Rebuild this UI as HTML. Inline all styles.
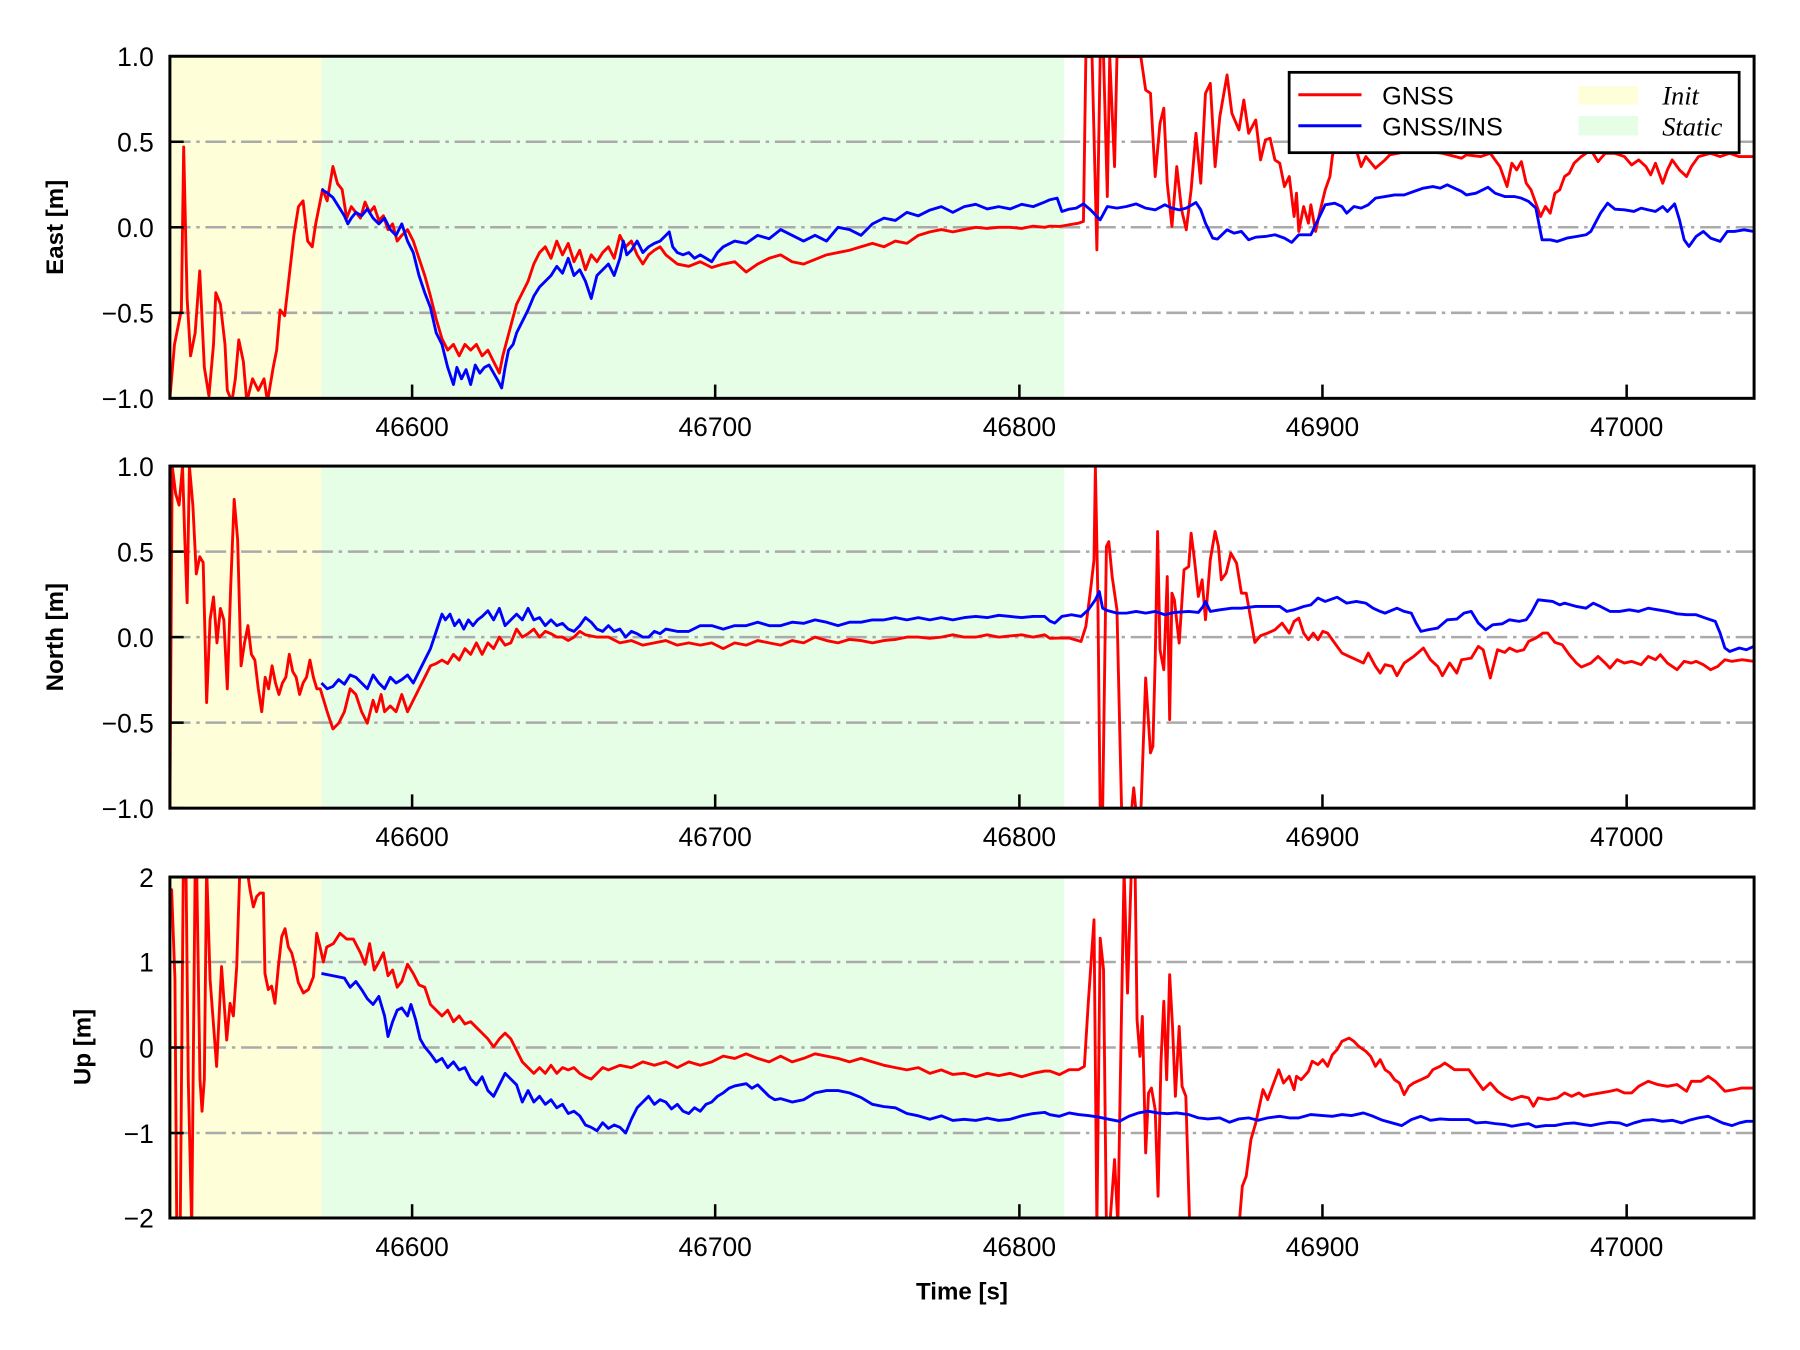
<!DOCTYPE html>
<html><head><meta charset="utf-8"><style>
html,body{margin:0;padding:0;background:#fff;}
svg{display:block;}
text{font-family:"Liberation Sans",Arial,sans-serif;fill:#000;}
</style></head><body>
<svg id="s" width="1800" height="1350" viewBox="0 0 1568 1176" xmlns="http://www.w3.org/2000/svg">
<defs>
<clipPath id="c1"><rect x="148" y="49" width="1380" height="298"/></clipPath>
<clipPath id="c2"><rect x="148" y="406" width="1380" height="298"/></clipPath>
<clipPath id="c3"><rect x="148" y="764" width="1380" height="297"/></clipPath>
</defs>
<g id="bg"></g>
<g id="grid" stroke="#aaaaaa" stroke-width="2.2" stroke-dasharray="18 5 3 5" fill="none"></g>
<g id="series" fill="none" stroke-width="2.5" stroke-linejoin="round"></g>
<g id="axes"></g>
<g id="legend">
<rect x="1123" y="63" width="392" height="70" fill="#fff" stroke="#000" stroke-width="2.4"/>
<line x1="1131" y1="82.5" x2="1186" y2="82.5" stroke="#ff0000" stroke-width="2.6"/>
<line x1="1131" y1="109.5" x2="1186" y2="109.5" stroke="#0000ff" stroke-width="2.6"/>
<text x="1204" y="91" font-size="22">GNSS</text>
<text x="1204" y="118" font-size="22">GNSS/INS</text>
<rect x="1375" y="75" width="52" height="16" fill="#fefed8"/>
<rect x="1375" y="101" width="52" height="17" fill="#e6fde6"/>
<text x="1448" y="91" font-size="23" font-style="italic" style="font-family:'Liberation Serif',serif">Init</text>
<text x="1448" y="118" font-size="23" font-style="italic" style="font-family:'Liberation Serif',serif">Static</text>
</g>
<text x="838" y="1132" font-size="21" font-weight="bold" text-anchor="middle">Time [s]</text>
<text transform="translate(55,198) rotate(-90)" font-size="21" font-weight="bold" text-anchor="middle">East [m]</text>
<text transform="translate(55,555) rotate(-90)" font-size="21" font-weight="bold" text-anchor="middle">North [m]</text>
<text transform="translate(79,912) rotate(-90)" font-size="21" font-weight="bold" text-anchor="middle">Up [m]</text>
</svg>
<script>
(function(){
var NS="http://www.w3.org/2000/svg";
function el(p,t,a,txt){var e=document.createElementNS(NS,t);for(var k in a)e.setAttribute(k,a[k]);if(txt!=null)e.textContent=txt;document.getElementById(p).appendChild(e);return e;}
var L=148,R=1528;
var panels=[
 {t:49,b:347,clip:"c1",ticks:[[49,"1.0"],[123.5,"0.5"],[198,"0.0"],[272.5,"\u22120.5"],[347,"\u22121.0"]],grid:[123.5,198,272.5]},
 {t:406,b:704,clip:"c2",ticks:[[406,"1.0"],[480.5,"0.5"],[555,"0.0"],[629.5,"\u22120.5"],[704,"\u22121.0"]],grid:[480.5,555,629.5]},
 {t:764,b:1061,clip:"c3",ticks:[[764,"2"],[838,"1"],[912.5,"0"],[987,"\u22121"],[1061,"\u22122"]],grid:[838,912.5,987]}
];
var xt=[[359,"46600"],[623,"46700"],[888,"46800"],[1152,"46900"],[1417,"47000"]];
panels.forEach(function(p){
 el("bg","rect",{x:L,y:p.t,width:280-L,height:p.b-p.t,fill:"#fefed8"});
 el("bg","rect",{x:280,y:p.t,width:927-280,height:p.b-p.t,fill:"#e6fde6"});
 p.grid.forEach(function(y){el("grid","line",{x1:L,y1:y,x2:R,y2:y});});
 el("axes","rect",{x:L,y:p.t,width:R-L,height:p.b-p.t,fill:"none",stroke:"#000","stroke-width":2.6});
 p.ticks.forEach(function(t){
  el("axes","line",{x1:L,y1:t[0],x2:L+12,y2:t[0],stroke:"#000","stroke-width":2.2});
  el("axes","text",{x:134,y:t[0]+8.5,"font-size":23,"text-anchor":"end"},t[1]);
 });
 xt.forEach(function(t){
  el("axes","line",{x1:t[0],y1:p.b,x2:t[0],y2:p.b-12,stroke:"#000","stroke-width":2.2});
  el("axes","text",{x:t[0],y:p.b+33,"font-size":23,"text-anchor":"middle"},t[1]);
 });
});
function tz(arr,y0){var o=[];for(var i=0;i<arr.length;i+=2)o.push(914.6+0.417*arr[i],y0+0.29*arr[i+1]);return o;}
function path(arr,col,clip){var d="M";for(var i=0;i<arr.length;i+=2)d+=(i?" L":"")+arr[i].toFixed(1)+" "+arr[i+1].toFixed(1);el("series","path",{d:d,stroke:col,"clip-path":"url(#"+clip+")"});}

// Panel 1
var r1=[148,347,152,300,156,280,158,270,160,128,163,260,166,310,170,290,174,236,178,320,182,345,186,300,188,255,192,265,196,300,198,340,202,350,205,330,208,296,212,315,215,350,220,330,225,340,230,330,233,350,238,320,241,305,244,270,248,275,252,240,256,205,260,180,264,175,268,210,272,215,275,195,278,180,281,165,285,175,290,145,294,160,298,165,302,190,306,180,310,185,314,190,318,176,322,185,326,180,330,192,334,188,338,200,342,195,346,210,350,205,355,200,360,210,365,225,370,240,375,258,380,278,385,295,390,305,395,300,400,310,405,300,410,305,415,300,420,310,425,305,430,315,435,325,438,310,442,295,446,280,450,265,455,255,460,245,465,230,470,220,475,215,480,225,485,210,490,222,495,212,500,228,505,218,510,235,515,222,520,228,525,220,530,215,535,225,540,205,545,215,550,210,555,222,560,230,565,222,570,218,575,215,580,222,590,230,600,232,610,228,620,233,630,230,640,228,650,237,660,230,670,225,680,222,690,228,700,230,710,226,720,222,730,220,740,218,750,215,760,212,770,215,780,210,790,212,800,205,810,202,820,200,830,202,840,200,850,198,860,199,870,198,880,198,890,199,900,197,910,198,914.6,197];
r1=r1.concat(tz([20,530,40,525,60,520,70,515,75,20,88,20,98,600,105,20,112,20,120,440,125,20,135,350,140,20,190,20,200,120,210,130,220,380,230,220,238,175,245,400,255,530,265,350,275,480,285,540,295,420,305,250,315,400,325,130,335,100,345,350,355,200,370,75,380,190,395,240,405,150,415,250,430,210,440,330,450,270,460,265,470,330,480,340,490,410,500,380,510,500,515,430,520,545,530,470,540,520,545,465,555,545,565,480,575,420,585,380,590,320,600,250,620,220,640,300,650,350,660,320,680,355,700,330,710,315,760,300,820,310,860,325,870,315,900,320,920,310,940,350,955,410,965,340,975,360,985,335,995,400,1005,420,1015,460,1025,500,1035,470,1045,490,1055,430,1065,420,1075,380,1085,370,1095,340,1110,320,1130,300,1145,335,1160,310,1180,310,1200,320,1215,345,1230,330,1245,350,1255,375,1265,340,1280,400,1290,360,1300,330,1315,360,1330,380,1340,350,1355,320,1380,310,1400,320,1420,310,1440,320,1470,320],43.6));
var b1=[280,165,285,168,290,172,295,180,300,188,303,195,306,190,310,185,315,188,320,182,325,190,330,195,335,190,340,200,345,205,350,195,355,210,360,220,365,240,370,255,375,268,380,290,385,300,390,320,395,335,398,320,402,330,406,322,410,335,414,318,418,325,422,320,426,318,430,325,434,332,437,338,440,320,443,305,447,300,450,290,455,280,460,270,465,258,470,250,475,245,480,240,485,232,490,238,495,225,500,240,505,235,510,245,515,260,520,240,525,235,530,230,535,240,540,225,543,210,546,222,550,218,555,210,560,220,565,215,570,212,575,210,580,205,583,202,586,215,590,220,595,222,600,220,605,225,610,222,615,225,620,228,625,220,630,215,640,210,650,212,660,205,670,208,680,200,690,205,700,210,710,205,720,210,730,198,740,200,750,205,760,195,770,190,780,192,790,185,800,188,810,183,820,180,830,185,840,180,850,178,860,182,870,180,880,182,890,178,900,180,910,176,914.6,174];
b1=b1.concat(tz([15,445,25,485,40,478,55,475,70,462,85,480,105,510,120,470,140,475,160,470,180,462,200,475,220,480,240,465,255,475,270,480,285,475,305,458,315,480,325,520,340,565,350,568,370,540,385,550,400,545,415,570,430,562,450,560,470,555,490,565,505,578,520,555,545,555,560,510,575,465,595,460,610,470,620,490,635,470,650,475,665,465,680,445,700,440,720,435,740,435,760,425,780,415,800,410,815,415,830,405,845,415,860,425,870,435,890,430,915,412,930,430,950,440,970,440,985,445,1000,455,1015,475,1028,570,1045,570,1060,575,1080,565,1100,560,1120,555,1130,545,1150,490,1165,460,1180,478,1200,480,1220,485,1235,475,1250,480,1265,485,1280,470,1290,485,1305,462,1315,510,1325,570,1335,590,1350,560,1365,545,1380,565,1400,575,1415,545,1430,545,1450,540,1470,545],43.6));
path(r1,"#ff0000","c1");path(b1,"#0000ff","c1");

// Panel 2
var r2=[148,704,150,406,153,430,156,440,159,406,161,470,163,525,165,406,168,440,171,500,174,485,177,490,180,612,183,540,186,520,189,560,192,530,195,540,198,600,201,510,204,435,207,470,210,580,213,560,216,545,219,570,222,575,225,600,228,620,231,590,234,600,237,580,240,595,243,605,246,595,249,590,252,570,255,585,258,590,261,605,264,595,267,590,270,575,273,590,276,600,279,600,282,610,285,620,290,635,295,630,300,620,305,600,310,605,315,620,320,630,325,610,328,620,332,605,335,620,340,615,345,620,350,605,355,620,360,610,365,600,370,590,375,580,380,578,385,575,390,578,395,570,400,575,405,565,410,570,415,560,420,570,425,560,430,565,435,555,440,562,445,560,450,548,455,555,460,552,465,548,470,555,475,550,480,552,485,555,490,555,495,558,500,555,505,550,510,553,520,555,530,555,540,560,550,558,560,562,570,560,580,558,590,562,600,560,610,562,620,560,630,565,640,560,650,562,660,558,670,560,680,562,690,558,700,560,710,555,720,558,730,560,740,557,750,558,760,560,770,558,780,557,790,555,800,555,810,556,820,555,830,553,840,555,850,555,860,553,870,555,880,554,890,553,900,555,910,553,914.6,556];
r2=r2.concat(tz([20,535,40,535,65,545,75,500,85,390,92,300,95,20,100,400,105,1060,110,1060,118,260,123,245,130,350,140,450,150,1060,160,1060,170,1060,175,985,180,1060,190,1060,200,655,210,880,215,860,220,600,225,215,230,570,238,630,245,350,250,780,255,400,260,420,270,550,280,330,290,320,295,220,302,300,310,410,318,360,325,480,335,300,345,215,352,260,358,360,368,340,378,280,390,310,400,400,410,400,420,480,428,548,440,528,455,520,470,510,485,490,500,520,510,485,520,475,530,520,540,540,550,520,560,540,570,515,580,520,590,540,600,560,610,580,625,590,640,600,655,610,665,580,680,620,690,640,700,615,715,620,725,648,740,610,760,590,780,565,795,600,810,620,820,648,835,610,850,640,860,600,880,595,895,560,905,570,920,655,935,570,950,578,960,565,975,575,990,570,1000,545,1015,535,1030,520,1040,520,1055,548,1070,555,1085,585,1100,610,1110,622,1130,610,1145,590,1160,610,1170,625,1185,600,1200,610,1215,605,1235,615,1250,590,1265,600,1275,585,1290,610,1310,630,1325,605,1340,610,1350,605,1365,615,1380,630,1395,620,1410,600,1425,605,1445,600,1470,605],400.7));
var b2=[280,595,285,600,290,598,295,592,300,596,305,588,310,590,315,595,320,600,325,588,330,595,335,600,340,590,345,595,350,592,355,588,360,595,365,585,370,575,375,565,380,550,385,535,388,540,392,535,396,545,400,540,404,548,408,540,412,545,416,540,420,537,425,532,430,540,435,530,440,545,445,540,450,535,455,540,460,530,465,540,470,538,475,545,480,540,485,545,490,543,495,548,500,550,505,545,510,538,515,542,520,548,525,550,530,545,535,550,540,548,545,555,550,550,555,552,560,555,565,555,570,550,575,552,580,548,590,550,600,550,610,545,620,545,630,548,640,545,650,545,660,542,670,545,680,545,690,542,700,543,710,540,720,542,730,545,740,542,750,542,760,540,770,540,780,538,790,540,800,538,810,540,820,538,830,540,840,538,850,537,860,538,870,536,880,537,890,538,900,537,910,537,914.6,541];
b2=b2.concat(tz([10,490,25,470,45,465,65,470,80,450,95,420,103,395,110,445,120,452,140,460,160,460,180,455,200,460,220,455,240,465,260,458,290,455,310,458,320,440,325,425,335,455,355,450,380,445,400,445,430,440,460,440,480,440,495,455,510,450,530,440,545,435,560,415,575,425,600,412,620,430,640,425,660,430,675,445,690,455,700,460,725,445,740,455,755,460,765,490,775,515,790,510,810,505,830,480,850,478,865,460,880,455,895,490,910,510,925,495,945,492,960,480,980,485,995,480,1005,460,1020,420,1050,425,1065,435,1075,430,1100,440,1120,445,1135,430,1150,440,1170,455,1190,455,1210,450,1230,455,1250,445,1270,450,1290,455,1310,462,1330,465,1350,465,1370,475,1390,485,1400,520,1410,565,1420,575,1440,565,1455,570,1470,560],400.7));
path(r2,"#ff0000","c2");path(b2,"#0000ff","c2");

// Panel 3
var r3=[148,800,149.5,775,152.4,853,154,1070,157,1070,159.7,755,162,755,164,940,167,1070,170,755,171.3,755,174.2,940,176,968,178,940,180,755,183,853,188.7,929,193,842,197.5,906,200.4,874,203.3,885,206.2,842,209,755,214.9,755,217.8,775,220.7,790,223.6,781,226.5,778,229.4,778,230.8,848,233.7,862,236.6,859,239.5,874,242.5,842,245.4,816,248.3,809,251.2,825,254.1,830,257,842,259.9,856,264.3,865,268.6,862,273,851,275.9,813,278.8,825,281.7,838,284.6,825,290.4,822,296.2,813,302,818,307.8,818,314,830,318,840,322,822,326,845,330,838,334,830,338,850,342,845,346,860,350,855,355,840,360,848,365,858,370,860,375,875,380,880,385,885,390,880,395,890,400,885,405,892,410,890,415,895,420,900,425,905,430,912,435,905,440,900,445,905,450,915,455,925,460,930,465,935,470,930,475,935,480,928,485,935,490,930,495,932,500,930,505,935,510,938,515,940,520,935,525,930,530,932,540,928,550,930,560,925,570,928,580,925,590,930,600,925,610,928,620,925,630,920,640,922,650,918,660,922,670,925,680,920,690,925,700,922,710,918,720,920,730,922,740,925,750,922,760,925,770,928,780,930,790,932,800,930,810,935,820,932,830,936,840,935,850,938,860,935,870,937,880,935,890,938,900,935,910,933,914.6,933];
r3=r3.concat(tz([20,615,40,600,60,600,72,590,80,400,92,150,98,1070,105,205,112,300,118,1070,125,1070,135,870,142,1070,150,400,155,0,162,370,170,0,178,0,182,450,188,560,193,440,200,850,206,670,212,655,220,720,226,980,232,580,238,395,244,630,250,315,256,470,262,680,270,470,276,650,284,680,292,1070,395,1070,402,950,410,920,420,810,430,760,445,660,455,690,465,650,478,600,488,640,500,620,510,660,515,620,525,630,540,605,548,575,560,585,570,570,580,590,590,555,600,540,610,515,625,505,635,515,645,530,660,545,670,560,680,590,690,570,700,600,710,610,720,630,730,640,740,675,750,650,760,640,775,630,790,620,800,600,815,590,825,580,835,590,845,600,860,600,875,600,885,620,895,640,905,660,920,640,935,665,950,680,965,690,985,680,1000,685,1010,710,1020,685,1040,690,1060,685,1075,670,1090,680,1105,670,1115,680,1130,675,1150,670,1170,665,1185,660,1200,670,1215,670,1230,650,1250,635,1270,645,1290,650,1310,645,1330,665,1340,635,1360,635,1375,620,1390,635,1410,665,1430,660,1445,655,1470,655],757.8));
var b3=[280,848,290,850,300,852,305,860,310,855,315,862,320,870,325,875,330,868,335,885,338,903,342,890,346,880,350,878,355,885,358,875,362,888,366,905,370,912,375,918,380,925,385,922,390,930,395,925,400,932,405,930,410,940,415,945,420,938,425,950,430,955,435,945,440,935,445,940,450,945,455,960,460,950,465,960,470,955,475,962,480,958,485,965,490,962,495,970,500,968,505,972,510,980,515,982,520,985,525,978,530,983,535,980,540,982,545,987,550,975,555,965,560,960,565,955,570,962,575,958,580,960,585,966,590,962,595,968,600,970,605,965,610,968,615,962,620,960,625,955,630,952,635,948,640,946,645,945,650,944,655,948,660,945,665,950,670,955,675,958,680,957,690,960,700,958,710,952,720,950,730,950,740,952,750,956,760,962,770,964,780,965,790,970,800,972,810,975,820,972,830,976,840,975,850,976,860,974,870,976,880,975,890,972,900,970,910,969,914.6,971];
b3=b3.concat(tz([20,740,40,730,60,735,80,738,100,742,120,748,145,755,165,740,185,730,205,725,225,730,245,732,265,730,290,735,310,745,330,748,355,745,375,758,395,748,415,745,435,752,455,745,480,740,500,745,520,745,545,735,570,738,590,740,610,735,630,738,655,730,675,740,695,752,715,760,735,768,755,750,775,740,795,752,815,748,835,750,855,750,875,750,890,760,910,758,930,762,950,765,965,770,985,765,1000,762,1015,772,1035,768,1055,768,1075,762,1095,760,1115,765,1130,768,1150,762,1170,758,1190,760,1205,768,1220,760,1240,752,1260,750,1280,755,1300,752,1320,760,1335,752,1355,745,1375,740,1390,750,1405,760,1425,768,1440,760,1455,755,1470,755],757.8));
path(r3,"#ff0000","c3");path(b3,"#0000ff","c3");

// move legend on top
var s=document.getElementById("s");s.appendChild(document.getElementById("legend"));
})();
</script>
</body></html>
